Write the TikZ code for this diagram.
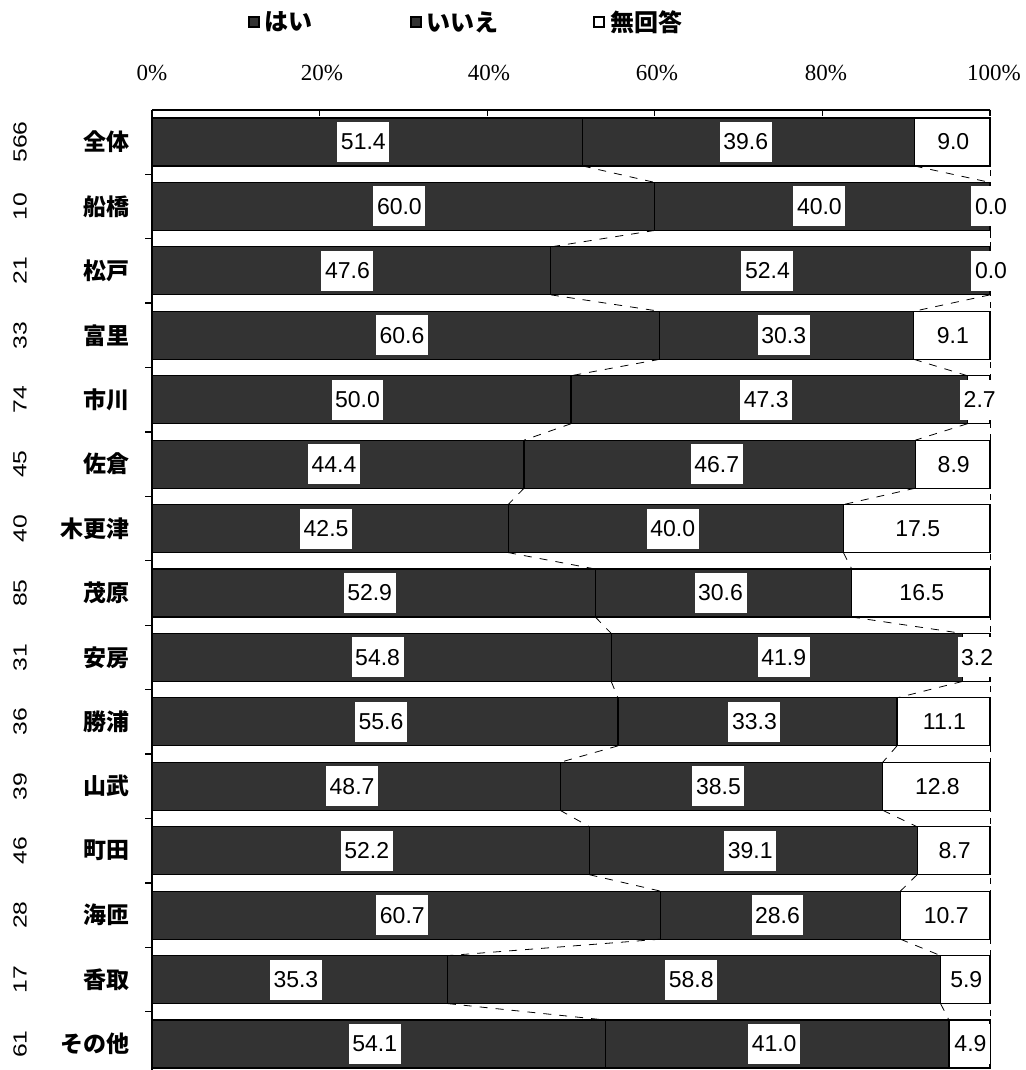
\documentclass[tikz,border=0pt]{standalone}
\usepackage{fontspec}
\setmainfont{Liberation Serif}
\newfontfamily\jpfont{Noto Sans CJK JP}
\newfontfamily\numfont{Liberation Sans}
\begin{document}
\begin{tikzpicture}[x=0.5pt,y=-0.5pt,
	darkbar/.style={draw=black,line width=0.6pt,fill=black!80},
	blankbar/.style={draw=black,line width=0.6pt,fill=white},
	valbox/.style={fill=white,inner sep=1.8pt,minimum height=20pt,font=\numfont\fontsize{11.5}{12}\selectfont},
	rowname/.style={anchor=east,inner sep=0pt,font=\jpfont\bfseries\fontsize{11.5}{12}\selectfont},
	rowcount/.style={rotate=90,inner sep=0pt,font=\numfont\fontsize{9.5}{10}\selectfont},
	series/.style={dashed,line width=0.4pt,dash pattern=on 4pt off 4pt},
	legkey/.style={draw=black,line width=0.6pt,minimum size=5pt,inner sep=0pt},
	legtext/.style={anchor=west,inner sep=0pt,font=\jpfont\bfseries\fontsize{12}{13}\selectfont},
	pct/.style={font=\fontsize{11.5}{12}\selectfont}]
	\useasboundingbox (0,0) rectangle (1026,1070);
	% legend
	\node[legkey,fill=black!80] (keyyes) at (254,22) {};
	\node[legtext] (txtyes) at (264,22) {はい};
	\node[legkey,fill=black!80] (keyno) at (416,22) {};
	\node[legtext] (txtno) at (426,22) {いいえ};
	\node[legkey,fill=white] (keyna) at (599,22) {};
	\node[legtext] (txtna) at (610,22) {無回答};
	% scale on top
	\foreach \p/\px in {0/152,20/322,40/489,60/657,80/826,100/994}
		\node[pct] (pct\p) at (\px,73) {\p\%};
	\draw[line width=0.6pt] (152,110) -- (990,110);
	\foreach \p in {0,20,...,100}
		\draw[line width=0.6pt] ({152+8.38*\p},110) -- ({152+8.38*\p},116);
	\draw[line width=0.6pt] (152,110) -- (152,1070);
	\draw[line width=0.5pt,dashed] (990,110) -- (990,1070);
	% bars
	\foreach \n/\name/\a/\b/\c [count=\i] in {
		566/全体/51.4/39.6/9.0, 10/船橋/60.0/40.0/0.0, 21/松戸/47.6/52.4/0.0,
		33/富里/60.6/30.3/9.1, 74/市川/50.0/47.3/2.7, 45/佐倉/44.4/46.7/8.9,
		40/木更津/42.5/40.0/17.5, 85/茂原/52.9/30.6/16.5, 31/安房/54.8/41.9/3.2,
		36/勝浦/55.6/33.3/11.1, 39/山武/48.7/38.5/12.8, 46/町田/52.2/39.1/8.7,
		28/海匝/60.7/28.6/10.7, 17/香取/35.3/58.8/5.9, 61/その他/54.1/41.0/4.9} {
		\pgfmathsetmacro\yc{142+64.43*(\i-1)}
		\pgfmathsetmacro\xa{152+8.38*\a}
		\pgfmathsetmacro\xb{152+8.38*(\a+\b)}
		\draw[line width=0.6pt] (145,\yc+32.2) -- (152,\yc+32.2);
		\draw[darkbar] (152,\yc-24) rectangle (\xa,\yc+24);
		\draw[darkbar] (\xa,\yc-24) rectangle (\xb,\yc+24);
		\draw[blankbar] (\xb,\yc-24) rectangle (990,\yc+24);
		\coordinate (topA\i) at (\xa,\yc-24);
		\coordinate (botA\i) at (\xa,\yc+24);
		\coordinate (topB\i) at (\xb,\yc-24);
		\coordinate (botB\i) at (\xb,\yc+24);
		\node[valbox] (yes\i) at ({(152+\xa)/2-4},\yc) {\a};
		\node[valbox] (no\i) at ({(\xa+\xb)/2-3},\yc) {\b};
		\node[valbox] (na\i) at ({(\xb+990)/2+1},\yc) {\c};
		\node[rowname] (name\i) at (130,\yc) {\name};
		\node[rowcount] (cnt\i) at (20,\yc) {\scalebox{1.3}[1]{\n}};
	}
	% series lines
	\foreach \i [evaluate=\i as \j using int(\i+1)] in {1,...,14} {
		\draw[series] (botA\i) -- (topA\j);
		\draw[series] (botB\i) -- (topB\j);
	}
\end{tikzpicture}
\end{document}
